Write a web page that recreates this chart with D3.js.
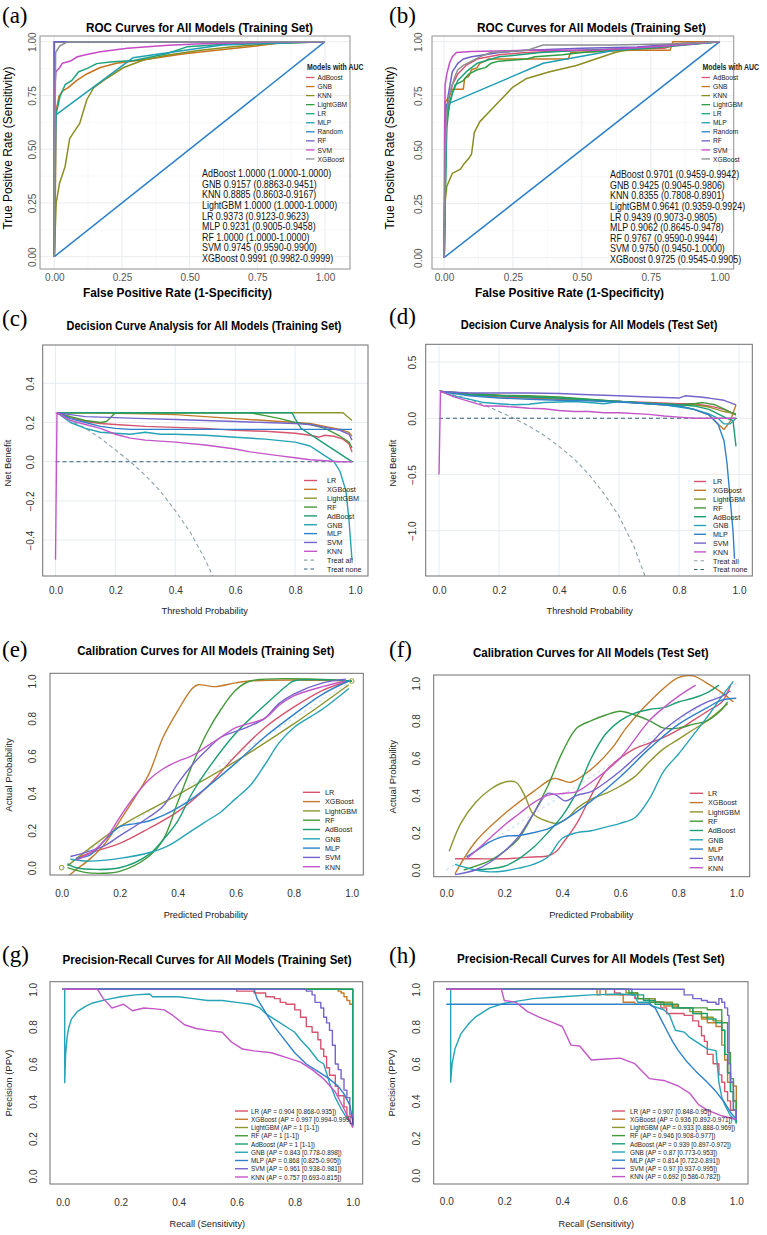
<!DOCTYPE html>
<html>
<head>
<meta charset="utf-8">
<script src="https://cdn.jsdelivr.net/npm/d3@7"></script>
<style>
  body { margin: 0; background: #fff; }
  svg { display: block; font-family: "Liberation Sans", Arial, sans-serif; }
</style>
</head>
<body>
<script>
// ---------------- data ----------------
const rocModels = ["AdBoost", "GNB", "KNN", "LightGBM", "LR", "MLP", "Random", "RF", "SVM", "XGBoost"];
const aucModels = ["AdBoost", "GNB", "KNN", "LightGBM", "LR", "MLP", "RF", "SVM", "XGBoost"];
const aucTrain = [1.0000, 0.9157, 0.8885, 1.0000, 0.9373, 0.9231, 1.0000, 0.9745, 0.9991];
const aucTrainLo = [1.0000, 0.8863, 0.8603, 1.0000, 0.9123, 0.9005, 1.0000, 0.9590, 0.9982];
const aucTrainHi = [1.0000, 0.9451, 0.9167, 1.0000, 0.9623, 0.9458, 1.0000, 0.9900, 0.9999];
const aucTest = [0.9701, 0.9425, 0.8355, 0.9641, 0.9439, 0.9062, 0.9767, 0.9750, 0.9725];
const aucTestLo = [0.9459, 0.9045, 0.7808, 0.9359, 0.9073, 0.8645, 0.9590, 0.9450, 0.9545];
const aucTestHi = [0.9942, 0.9806, 0.8901, 0.9924, 0.9805, 0.9478, 0.9944, 1.0000, 0.9905];

const baseModels = ["LR", "XGBoost", "LightGBM", "RF", "AdBoost", "GNB", "MLP", "SVM", "KNN"];
const apTrain = [0.904, 0.997, 1, 1, 1, 0.843, 0.868, 0.961, 0.757];
const apTrainLo = [0.868, 0.994, 1, 1, 1, 0.778, 0.825, 0.938, 0.693];
const apTrainHi = [0.935, 0.999, 1, 1, 1, 0.898, 0.905, 0.981, 0.815];
const apTest = [0.907, 0.936, 0.933, 0.946, 0.939, 0.87, 0.814, 0.97, 0.692];
const apTestLo = [0.848, 0.892, 0.888, 0.908, 0.897, 0.773, 0.722, 0.937, 0.586];
const apTestHi = [0.95, 0.971, 0.969, 0.977, 0.972, 0.953, 0.891, 0.995, 0.782];

const rocTicks = [0, 0.25, 0.5, 0.75, 1];
const probTicks = [0, 0.2, 0.4, 0.6, 0.8, 1];
const nbTicksTrain = [-0.4, -0.2, 0, 0.2, 0.4];
const nbTicksTest = [-1, -0.5, 0, 0.5];

// ROC, training set (a)
const rocTrainCurves = [
  ["AdBoost", [[0, 0], [0, 1], [1, 1]]],
  ["GNB", [[0, 0], [0.004, 0.3], [0.006, 0.55], [0.007, 0.68], [0.017, 0.745], [0.03, 0.77], [0.05, 0.785], [0.083, 0.82], [0.12, 0.85], [0.17, 0.88], [0.23, 0.9], [0.35, 0.92], [0.48, 0.944], [0.6, 0.96], [0.72, 0.976], [0.81, 0.99], [0.85, 1], [1, 1]]],
  ["KNN", [[0, 0], [0.007, 0.25], [0.019, 0.34], [0.04, 0.42], [0.057, 0.55], [0.094, 0.62], [0.12, 0.73], [0.145, 0.785], [0.194, 0.83], [0.256, 0.88], [0.33, 0.915], [0.415, 0.937], [0.54, 0.96], [0.66, 0.976], [0.785, 0.99], [1, 1]]],
  ["LightGBM", [[0, 0], [0, 1], [1, 1]]],
  ["LR", [[0, 0], [0.004, 0.6], [0.006, 0.66], [0.021, 0.745], [0.04, 0.8], [0.065, 0.82], [0.09, 0.86], [0.12, 0.875], [0.157, 0.898], [0.206, 0.906], [0.293, 0.913], [0.415, 0.944], [0.49, 0.976], [0.66, 0.99], [1, 1]]],
  ["MLP", [[0, 0], [0.006, 0.66], [0.29, 0.925], [0.62, 0.985], [1, 1]]],
  ["Random", [[0, 0], [1, 1]]],
  ["RF", [[0, 0], [0, 1], [1, 1]]],
  ["SVM", [[0, 0], [0.003, 0.8], [0.006, 0.86], [0.02, 0.88], [0.03, 0.9], [0.06, 0.91], [0.085, 0.93], [0.12, 0.94], [0.17, 0.953], [0.27, 0.97], [0.42, 0.984], [0.55, 0.99], [0.85, 1], [1, 1]]],
  ["XGBoost", [[0, 0], [0.002, 0.5], [0.005, 0.95], [0.02, 0.98], [0.05, 1], [1, 1]]]
];

// ROC, second set (b)
const rocTestCurves = [
  ["AdBoost", [[0, 0], [0.005, 0.55], [0.015, 0.72], [0.03, 0.8], [0.05, 0.85], [0.08, 0.89], [0.12, 0.92], [0.2, 0.94], [0.3, 0.95], [0.5, 0.96], [0.8, 0.97], [0.85, 0.99], [1, 1]]],
  ["GNB", [[0, 0], [0.003, 0.04], [0.005, 0.72], [0.015, 0.74], [0.03, 0.78], [0.07, 0.78], [0.075, 0.83], [0.09, 0.84], [0.1, 0.87], [0.12, 0.88], [0.13, 0.9], [0.15, 0.91], [0.16, 0.92], [0.45, 0.92], [0.46, 0.95], [0.68, 0.96], [0.82, 0.96], [0.83, 1], [1, 1]]],
  ["KNN", [[0, 0], [0.005, 0.27], [0.01, 0.33], [0.03, 0.39], [0.06, 0.41], [0.07, 0.43], [0.09, 0.46], [0.1, 0.48], [0.11, 0.58], [0.13, 0.63], [0.16, 0.67], [0.19, 0.71], [0.22, 0.75], [0.25, 0.79], [0.3, 0.83], [0.38, 0.86], [0.48, 0.89], [0.55, 0.92], [0.62, 0.95], [0.69, 0.97], [0.8, 0.98], [1, 1]]],
  ["LightGBM", [[0, 0], [0.01, 0.6], [0.02, 0.72], [0.04, 0.8], [0.07, 0.82], [0.09, 0.85], [0.12, 0.87], [0.15, 0.88], [0.17, 0.9], [0.2, 0.91], [0.3, 0.92], [0.33, 0.93], [0.43, 0.94], [0.5, 0.95], [0.62, 0.96], [0.75, 0.97], [1, 1]]],
  ["LR", [[0, 0], [0.01, 0.65], [0.03, 0.76], [0.05, 0.82], [0.08, 0.86], [0.12, 0.9], [0.2, 0.93], [0.35, 0.95], [0.5, 0.96], [0.7, 0.97], [1, 1]]],
  ["MLP", [[0, 0], [0.005, 0.45], [0.01, 0.71], [0.36, 0.9], [0.62, 0.96], [1, 1]]],
  ["Random", [[0, 0], [1, 1]]],
  ["RF", [[0, 0], [0.005, 0.6], [0.015, 0.75], [0.03, 0.86], [0.05, 0.9], [0.07, 0.92], [0.1, 0.93], [0.2, 0.95], [0.3, 0.96], [0.5, 0.97], [0.7, 0.975], [0.85, 0.99], [1, 1]]],
  ["SVM", [[0, 0], [0.002, 0.55], [0.004, 0.8], [0.01, 0.85], [0.02, 0.9], [0.03, 0.93], [0.045, 0.95], [0.1, 0.955], [0.3, 0.96], [0.55, 0.96], [0.8, 0.98], [1, 1]]],
  ["XGBoost", [[0, 0], [0.005, 0.5], [0.01, 0.68], [0.02, 0.76], [0.03, 0.8], [0.04, 0.84], [0.05, 0.87], [0.07, 0.89], [0.1, 0.91], [0.13, 0.93], [0.17, 0.95], [0.3, 0.96], [0.36, 0.985], [0.6, 0.985], [0.85, 0.99], [1, 1]]]
];

// Decision curves, training set (c)
const dcaTrainCurves = [
  ["LR", [[0.005, 0.25], [0.05, 0.225], [0.1, 0.205], [0.15, 0.195], [0.2, 0.19], [0.3, 0.18], [0.4, 0.175], [0.5, 0.17], [0.6, 0.16], [0.7, 0.155], [0.8, 0.145], [0.85, 0.135], [0.88, 0.125], [0.9, 0.135], [0.93, 0.13], [0.96, 0.115], [0.98, 0.09], [0.99, 0.05]]],
  ["XGBoost", [[0.005, 0.25], [0.1, 0.25], [0.3, 0.245], [0.4, 0.24], [0.5, 0.23], [0.6, 0.22], [0.7, 0.21], [0.8, 0.2], [0.85, 0.195], [0.9, 0.18], [0.95, 0.165], [0.98, 0.15], [0.99, 0.13]]],
  ["LightGBM", [[0.005, 0.25], [0.96, 0.25], [0.99, 0.21]]],
  ["RF", [[0.005, 0.25], [0.05, 0.23], [0.1, 0.21], [0.15, 0.2], [0.17, 0.205], [0.2, 0.25], [0.65, 0.25], [0.7, 0.235], [0.75, 0.22], [0.8, 0.2], [0.85, 0.19], [0.9, 0.17], [0.95, 0.13], [0.98, 0.1], [0.99, 0.07]]],
  ["AdBoost", [[0.005, 0.25], [0.79, 0.25], [0.8, 0.22], [0.82, 0.17], [0.85, 0.14], [0.88, 0.11], [0.9, 0.09], [0.93, 0.06], [0.96, 0.03], [0.99, 0.0]]],
  ["GNB", [[0.005, 0.25], [0.05, 0.2], [0.1, 0.17], [0.15, 0.15], [0.2, 0.145], [0.25, 0.14], [0.3, 0.15], [0.35, 0.14], [0.4, 0.14], [0.5, 0.135], [0.6, 0.125], [0.7, 0.115], [0.8, 0.1], [0.85, 0.08], [0.88, 0.05], [0.9, 0.03], [0.93, 0.0], [0.95, -0.05], [0.97, -0.15], [0.98, -0.3], [0.99, -0.5]]],
  ["MLP", [[0.005, 0.25], [0.05, 0.22], [0.1, 0.2], [0.15, 0.18], [0.2, 0.17], [0.25, 0.165], [0.99, 0.165]]],
  ["SVM", [[0.005, 0.25], [0.05, 0.24], [0.1, 0.23], [0.2, 0.225], [0.3, 0.22], [0.4, 0.215], [0.5, 0.21], [0.6, 0.205], [0.7, 0.2], [0.8, 0.195], [0.85, 0.19], [0.9, 0.175], [0.95, 0.16], [0.98, 0.14], [0.99, 0.11]]],
  ["KNN", [[0, -0.5], [0.005, 0.25], [0.05, 0.21], [0.1, 0.19], [0.15, 0.17], [0.2, 0.14], [0.25, 0.12], [0.3, 0.11], [0.35, 0.105], [0.4, 0.1], [0.5, 0.085], [0.6, 0.065], [0.65, 0.05], [0.7, 0.04], [0.75, 0.03], [0.8, 0.02], [0.85, 0.01], [0.9, 0.005], [0.95, 0.0], [0.99, 0.0]]]
];
const treatAllTrain = [[0, 0.25], [0.05, 0.21], [0.1, 0.17], [0.15, 0.12], [0.2, 0.06], [0.25, 0.0], [0.3, -0.07], [0.35, -0.15], [0.4, -0.25], [0.45, -0.36], [0.5, -0.5], [0.53, -0.6]];
const treatNone = [[0, 0], [1, 0]];

// Decision curves, test set (d)
const dcaTestCurves = [
  ["LR", [[0.005, 0.24], [0.1, 0.21], [0.2, 0.19], [0.3, 0.18], [0.4, 0.17], [0.5, 0.16], [0.6, 0.15], [0.7, 0.14], [0.8, 0.13], [0.85, 0.13], [0.9, 0.11], [0.95, 0.08], [0.99, 0.03]]],
  ["XGBoost", [[0.005, 0.24], [0.1, 0.22], [0.2, 0.205], [0.3, 0.19], [0.4, 0.18], [0.5, 0.165], [0.6, 0.15], [0.7, 0.13], [0.8, 0.11], [0.85, 0.08], [0.9, 0.03], [0.93, -0.05], [0.95, -0.1], [0.97, -0.03], [0.99, 0.12]]],
  ["LightGBM", [[0.005, 0.24], [0.1, 0.215], [0.2, 0.2], [0.3, 0.19], [0.4, 0.175], [0.5, 0.16], [0.6, 0.15], [0.7, 0.135], [0.8, 0.12], [0.85, 0.12], [0.9, 0.1], [0.95, 0.06], [0.99, 0.04]]],
  ["RF", [[0.005, 0.24], [0.1, 0.22], [0.2, 0.205], [0.3, 0.2], [0.4, 0.19], [0.5, 0.17], [0.6, 0.15], [0.7, 0.13], [0.8, 0.12], [0.85, 0.13], [0.88, 0.14], [0.92, 0.12], [0.96, 0.07], [0.99, 0.03]]],
  ["AdBoost", [[0.005, 0.24], [0.1, 0.21], [0.2, 0.2], [0.3, 0.19], [0.4, 0.18], [0.5, 0.165], [0.6, 0.15], [0.7, 0.135], [0.8, 0.12], [0.85, 0.11], [0.9, 0.08], [0.93, 0.04], [0.96, 0.0], [0.98, -0.02], [0.99, -0.25]]],
  ["GNB", [[0.005, 0.24], [0.05, 0.2], [0.1, 0.17], [0.15, 0.14], [0.2, 0.13], [0.25, 0.12], [0.3, 0.125], [0.35, 0.14], [0.4, 0.145], [0.45, 0.15], [0.5, 0.14], [0.55, 0.13], [0.6, 0.15], [0.65, 0.14], [0.7, 0.13], [0.75, 0.12], [0.8, 0.1], [0.85, 0.08], [0.9, 0.04], [0.93, 0.0], [0.95, -0.05], [0.97, -0.05], [0.99, 0.0]]],
  ["MLP", [[0.005, 0.24], [0.1, 0.2], [0.2, 0.18], [0.3, 0.17], [0.4, 0.16], [0.5, 0.155], [0.6, 0.145], [0.7, 0.13], [0.8, 0.11], [0.85, 0.08], [0.9, 0.03], [0.93, -0.05], [0.95, -0.2], [0.96, -0.4], [0.97, -0.7], [0.98, -1.0], [0.985, -1.25]]],
  ["SVM", [[0.005, 0.24], [0.1, 0.225], [0.2, 0.225], [0.3, 0.225], [0.4, 0.22], [0.5, 0.21], [0.6, 0.2], [0.7, 0.19], [0.8, 0.18], [0.82, 0.2], [0.87, 0.19], [0.9, 0.18], [0.95, 0.16], [0.99, 0.12]]],
  ["KNN", [[0, -0.5], [0.005, 0.24], [0.05, 0.19], [0.1, 0.15], [0.15, 0.11], [0.2, 0.11], [0.25, 0.1], [0.3, 0.09], [0.35, 0.085], [0.4, 0.07], [0.45, 0.06], [0.5, 0.06], [0.55, 0.05], [0.6, 0.05], [0.7, 0.035], [0.75, 0.02], [0.8, 0.01], [0.85, 0.0], [0.99, 0.0]]]
];
const treatAllTest = [[0, 0.25], [0.05, 0.21], [0.1, 0.17], [0.15, 0.12], [0.2, 0.06], [0.25, 0.0], [0.3, -0.07], [0.35, -0.15], [0.4, -0.25], [0.45, -0.36], [0.5, -0.5], [0.55, -0.67], [0.6, -0.87], [0.65, -1.14], [0.7, -1.5]];

// Calibration, training set (e)
const calTrainCurves = [
  ["LR", [[0.05, 0.05], [0.1, 0.08], [0.2, 0.13], [0.3, 0.21], [0.4, 0.3], [0.5, 0.43], [0.6, 0.6], [0.7, 0.75], [0.8, 0.86], [0.9, 0.95], [0.99, 1.0]]],
  ["XGBoost", [[0.02, -0.05], [0.05, -0.01], [0.1, 0.05], [0.15, 0.13], [0.2, 0.25], [0.25, 0.37], [0.3, 0.5], [0.35, 0.7], [0.4, 0.84], [0.45, 0.96], [0.47, 0.98], [0.5, 0.975], [0.53, 0.97], [0.6, 0.99], [0.65, 1.0], [0.8, 1.005], [1, 1]]],
  ["LightGBM", [[0.02, 0.01], [0.2, 0.22], [0.4, 0.39], [0.6, 0.57], [0.8, 0.77], [0.99, 0.98]]],
  ["RF", [[0.02, 0.0], [0.08, -0.025], [0.14, -0.03], [0.2, -0.02], [0.3, 0.06], [0.35, 0.15], [0.4, 0.35], [0.45, 0.55], [0.5, 0.72], [0.55, 0.85], [0.6, 0.95], [0.65, 1.0], [1, 1]]],
  ["AdBoost", [[0.02, 0.02], [0.05, 0.0], [0.2, 0.0], [0.3, 0.07], [0.35, 0.15], [0.4, 0.25], [0.45, 0.4], [0.5, 0.52], [0.6, 0.72], [0.7, 0.87], [0.78, 0.98], [0.8, 1.0], [1, 1]]],
  ["GNB", [[0.03, 0.045], [0.1, 0.035], [0.2, 0.05], [0.3, 0.08], [0.37, 0.12], [0.45, 0.2], [0.5, 0.25], [0.55, 0.3], [0.6, 0.37], [0.65, 0.44], [0.7, 0.55], [0.75, 0.67], [0.8, 0.75], [0.9, 0.85], [0.99, 0.96]]],
  ["MLP", [[0.05, 0.05], [0.1, 0.07], [0.15, 0.15], [0.2, 0.22], [0.25, 0.235], [0.3, 0.25], [0.35, 0.28], [0.4, 0.32], [0.45, 0.37], [0.5, 0.43], [0.6, 0.56], [0.7, 0.7], [0.8, 0.82], [0.9, 0.93], [0.99, 1.0]]],
  ["SVM", [[0.03, 0.06], [0.1, 0.09], [0.15, 0.12], [0.2, 0.17], [0.3, 0.27], [0.35, 0.33], [0.4, 0.45], [0.45, 0.55], [0.5, 0.63], [0.55, 0.7], [0.6, 0.73], [0.65, 0.76], [0.7, 0.8], [0.75, 0.88], [0.8, 0.93], [0.9, 0.99], [0.98, 1.01]]],
  ["KNN", [[0.05, 0.04], [0.1, 0.08], [0.15, 0.15], [0.2, 0.27], [0.25, 0.38], [0.3, 0.47], [0.35, 0.53], [0.4, 0.57], [0.45, 0.6], [0.5, 0.65], [0.55, 0.7], [0.6, 0.75], [0.7, 0.8], [0.75, 0.87], [0.8, 0.92], [0.9, 0.97], [0.98, 1.0]]]
];
const calTrainEnds = [[0, 0], [1, 1]];

// Calibration, test set (f)
const calTestCurves = [
  ["LR", [[0.03, 0.06], [0.1, 0.06], [0.2, 0.06], [0.25, 0.065], [0.3, 0.07], [0.35, 0.075], [0.38, 0.1], [0.4, 0.14], [0.45, 0.25], [0.5, 0.4], [0.55, 0.53], [0.6, 0.6], [0.65, 0.65], [0.7, 0.68], [0.75, 0.71], [0.8, 0.75], [0.85, 0.8], [0.9, 0.85], [0.95, 0.9], [0.98, 0.99]]],
  ["XGBoost", [[0.03, -0.02], [0.1, 0.15], [0.2, 0.3], [0.3, 0.42], [0.37, 0.49], [0.4, 0.48], [0.43, 0.47], [0.5, 0.54], [0.57, 0.65], [0.62, 0.76], [0.7, 0.9], [0.8, 1.03], [0.85, 1.04], [0.9, 1.0], [0.95, 0.95], [0.99, 0.9]]],
  ["LightGBM", [[0.01, 0.1], [0.05, 0.25], [0.1, 0.36], [0.15, 0.43], [0.2, 0.47], [0.24, 0.47], [0.27, 0.4], [0.3, 0.3], [0.35, 0.26], [0.38, 0.25], [0.42, 0.28], [0.45, 0.33], [0.5, 0.38], [0.55, 0.41], [0.6, 0.45], [0.65, 0.5], [0.7, 0.58], [0.75, 0.65], [0.8, 0.7], [0.85, 0.75], [0.9, 0.8], [0.97, 0.89]]],
  ["RF", [[0.06, 0.0], [0.15, 0.05], [0.2, 0.1], [0.25, 0.17], [0.3, 0.3], [0.35, 0.45], [0.4, 0.63], [0.45, 0.76], [0.5, 0.8], [0.55, 0.83], [0.6, 0.85], [0.65, 0.83], [0.7, 0.8], [0.75, 0.76], [0.8, 0.76], [0.85, 0.78], [0.9, 0.8], [0.95, 0.86], [0.97, 0.9]]],
  ["AdBoost", [[0.1, 0.0], [0.2, 0.02], [0.25, 0.06], [0.3, 0.12], [0.35, 0.2], [0.4, 0.29], [0.45, 0.42], [0.5, 0.6], [0.55, 0.73], [0.6, 0.8], [0.65, 0.84], [0.7, 0.86], [0.75, 0.87], [0.8, 0.9], [0.85, 0.92], [0.9, 0.95], [0.94, 0.99]]],
  ["GNB", [[0.03, 0.03], [0.1, 0.0], [0.15, -0.01], [0.2, -0.005], [0.25, 0.01], [0.3, 0.03], [0.35, 0.07], [0.4, 0.17], [0.45, 0.2], [0.5, 0.21], [0.55, 0.23], [0.6, 0.25], [0.65, 0.28], [0.7, 0.38], [0.75, 0.53], [0.8, 0.62], [0.85, 0.72], [0.9, 0.82], [0.95, 0.93], [0.99, 1.01]]],
  ["MLP", [[0.07, 0.07], [0.1, 0.1], [0.15, 0.15], [0.2, 0.18], [0.25, 0.185], [0.3, 0.2], [0.35, 0.22], [0.4, 0.26], [0.5, 0.37], [0.6, 0.5], [0.7, 0.65], [0.8, 0.78], [0.9, 0.87], [0.95, 0.91], [1.0, 0.92]]],
  ["SVM", [[0.03, -0.025], [0.1, 0.0], [0.15, 0.04], [0.2, 0.1], [0.25, 0.18], [0.3, 0.3], [0.35, 0.41], [0.38, 0.4], [0.41, 0.37], [0.45, 0.4], [0.5, 0.42], [0.55, 0.47], [0.6, 0.53], [0.65, 0.6], [0.7, 0.67], [0.75, 0.75], [0.8, 0.81], [0.85, 0.86], [0.9, 0.9], [0.95, 0.93], [0.98, 0.96]]],
  ["KNN", [[0.07, 0.06], [0.1, 0.1], [0.15, 0.17], [0.2, 0.24], [0.25, 0.3], [0.3, 0.36], [0.35, 0.4], [0.4, 0.41], [0.45, 0.42], [0.5, 0.47], [0.55, 0.53], [0.6, 0.6], [0.65, 0.7], [0.7, 0.8], [0.75, 0.87], [0.8, 0.93], [0.86, 0.99]]]
];
const idealLine = [[0, 0], [1, 1]];

// Precision-recall, training set (g)
const prTrainCurves = [
  ["LR", [[0, 1], [0.53, 1], [0.6, 0.99], [0.66, 0.98], [0.7, 0.96], [0.73, 0.95], [0.75, 0.93], [0.77, 0.92], [0.8, 0.89], [0.82, 0.85], [0.84, 0.8], [0.86, 0.77], [0.88, 0.73], [0.89, 0.68], [0.9, 0.64], [0.91, 0.58], [0.92, 0.54], [0.94, 0.48], [0.95, 0.43], [0.97, 0.37], [0.98, 0.32], [1, 0.26]]],
  ["XGBoost", [[0, 1], [0.94, 1], [0.95, 0.99], [0.96, 0.98], [0.97, 0.96], [0.98, 0.94], [0.99, 0.92], [1, 0.9]]],
  ["LightGBM", [[0, 1], [1, 1], [1, 0.27]]],
  ["RF", [[0, 1], [1, 1], [1, 0.27]]],
  ["AdBoost", [[0, 1], [1, 1], [1, 0.27]]],
  ["GNB", [[0, 1], [0.007, 1], [0.007, 0.5], [0.01, 0.65], [0.015, 0.74], [0.02, 0.79], [0.03, 0.84], [0.05, 0.88], [0.08, 0.91], [0.1, 0.925], [0.15, 0.945], [0.2, 0.96], [0.25, 0.97], [0.3, 0.975], [0.31, 0.96], [0.4, 0.96], [0.45, 0.95], [0.5, 0.94], [0.55, 0.94], [0.6, 0.93], [0.65, 0.92], [0.68, 0.9], [0.7, 0.87], [0.72, 0.85], [0.75, 0.82], [0.78, 0.79], [0.8, 0.77], [0.82, 0.73], [0.85, 0.68], [0.88, 0.62], [0.9, 0.6], [0.92, 0.5], [0.94, 0.42], [0.96, 0.36], [0.98, 0.31], [1, 0.27]]],
  ["MLP", [[0, 1], [0.66, 1], [0.67, 0.95], [0.69, 0.9], [0.71, 0.85], [0.73, 0.8], [0.76, 0.74], [0.8, 0.66], [0.84, 0.6], [0.88, 0.56], [0.92, 0.52], [0.95, 0.48], [0.97, 0.44], [0.99, 0.38], [1, 0.3]]],
  ["SVM", [[0, 1], [0.82, 1], [0.84, 0.99], [0.86, 0.97], [0.87, 0.93], [0.89, 0.9], [0.9, 0.85], [0.91, 0.82], [0.92, 0.78], [0.93, 0.7], [0.94, 0.6], [0.95, 0.57], [0.96, 0.52], [0.97, 0.46], [0.98, 0.42], [0.99, 0.33], [1, 0.27]]],
  ["KNN", [[0, 1], [0.12, 1], [0.14, 0.95], [0.17, 0.9], [0.19, 0.91], [0.21, 0.92], [0.24, 0.885], [0.28, 0.9], [0.32, 0.895], [0.35, 0.89], [0.38, 0.86], [0.42, 0.81], [0.46, 0.79], [0.5, 0.78], [0.55, 0.77], [0.58, 0.72], [0.62, 0.68], [0.66, 0.67], [0.72, 0.66], [0.78, 0.63], [0.82, 0.61], [0.86, 0.57], [0.9, 0.52], [0.94, 0.45], [0.97, 0.36], [1, 0.26]]]
];

// Precision-recall, test set (h)
const prTestCurves = [
  ["LR", [[0, 1], [0.57, 1], [0.58, 0.98], [0.6, 0.97], [0.65, 0.95], [0.72, 0.93], [0.74, 0.9], [0.76, 0.87], [0.82, 0.86], [0.85, 0.83], [0.87, 0.8], [0.88, 0.75], [0.89, 0.72], [0.9, 0.65], [0.92, 0.6], [0.94, 0.54], [0.95, 0.5], [0.96, 0.45], [0.97, 0.4], [0.98, 0.35], [1, 0.28]]],
  ["XGBoost", [[0, 1], [0.51, 1], [0.52, 0.97], [0.53, 1], [0.55, 0.97], [0.6, 0.97], [0.61, 0.93], [0.65, 0.92], [0.7, 0.93], [0.75, 0.91], [0.8, 0.9], [0.85, 0.87], [0.88, 0.84], [0.9, 0.82], [0.93, 0.8], [0.95, 0.7], [0.96, 0.62], [0.97, 0.5], [0.99, 0.48], [1, 0.3]]],
  ["LightGBM", [[0, 1], [0.58, 1], [0.62, 0.98], [0.66, 0.95], [0.72, 0.93], [0.78, 0.9], [0.84, 0.88], [0.88, 0.85], [0.92, 0.83], [0.95, 0.78], [0.96, 0.65], [0.97, 0.55], [0.98, 0.45], [0.99, 0.4], [1, 0.3]]],
  ["RF", [[0, 1], [0.62, 1], [0.63, 0.98], [0.66, 0.95], [0.7, 0.93], [0.75, 0.92], [0.8, 0.9], [0.85, 0.9], [0.9, 0.89], [0.93, 0.89], [0.95, 0.82], [0.97, 0.66], [0.98, 0.52], [0.99, 0.4], [1, 0.28]]],
  ["AdBoost", [[0, 1], [0.62, 1], [0.64, 0.97], [0.68, 0.94], [0.72, 0.92], [0.78, 0.9], [0.85, 0.87], [0.9, 0.84], [0.93, 0.82], [0.95, 0.78], [0.96, 0.65], [0.97, 0.55], [0.98, 0.45], [0.99, 0.35], [1, 0.28]]],
  ["GNB", [[0, 1], [0.015, 1], [0.015, 0.5], [0.02, 0.6], [0.03, 0.68], [0.05, 0.76], [0.08, 0.82], [0.1, 0.85], [0.15, 0.9], [0.2, 0.925], [0.3, 0.95], [0.4, 0.96], [0.5, 0.97], [0.6, 0.975], [0.65, 0.97], [0.66, 0.93], [0.7, 0.93], [0.71, 0.91], [0.75, 0.89], [0.77, 0.86], [0.79, 0.78], [0.82, 0.77], [0.84, 0.74], [0.86, 0.72], [0.88, 0.7], [0.9, 0.68], [0.93, 0.67], [0.94, 0.5], [0.95, 0.42], [0.96, 0.38], [0.98, 0.32], [1, 0.29]]],
  ["MLP", [[0, 0.92], [0.7, 0.92], [0.72, 0.9], [0.74, 0.84], [0.76, 0.78], [0.78, 0.72], [0.8, 0.67], [0.83, 0.61], [0.86, 0.56], [0.9, 0.5], [0.93, 0.45], [0.96, 0.39], [0.98, 0.34], [1, 0.3]]],
  ["SVM", [[0, 1], [0.81, 1], [0.82, 0.97], [0.85, 0.95], [0.88, 0.94], [0.9, 0.93], [0.93, 0.92], [0.94, 0.95], [0.95, 0.93], [0.96, 0.9], [0.97, 0.86], [0.975, 0.6], [0.98, 0.5], [0.99, 0.35], [1, 0.3]]],
  ["KNN", [[0, 1], [0.19, 1], [0.2, 0.94], [0.24, 0.93], [0.28, 0.88], [0.32, 0.85], [0.37, 0.82], [0.4, 0.8], [0.43, 0.7], [0.46, 0.695], [0.5, 0.62], [0.55, 0.625], [0.6, 0.63], [0.65, 0.6], [0.7, 0.52], [0.75, 0.51], [0.8, 0.48], [0.84, 0.44], [0.87, 0.38], [0.9, 0.35], [0.95, 0.32], [1, 0.3]]]
];

// ---------------- styling ----------------
const rocColor = d3.scaleOrdinal()
  .domain(rocModels)
  .range(["#da5570", "#c7741f", "#8a8d20", "#2f9d45", "#1aa37c", "#1f9fb3", "#2b7fc9", "#6c5fc9", "#c64cc6", "#8a8f93"]);
const baseColor = d3.scaleOrdinal()
  .domain(baseModels)
  .range(["#d6546e", "#c27b2c", "#8d962f", "#44993b", "#1b9e74", "#25a4b6", "#2f81cb", "#7465cc", "#c457c8"]);

const W = 767, H = 1235;
const svg = d3.select("body").append("svg").attr("width", W).attr("height", H);
svg.append("rect").attr("width", W).attr("height", H).attr("fill", "#fff");

function txt(g, x, y, s, o = {}) {
  let tr = `translate(${x},${y})`;
  if (o.rot) tr += ` rotate(${o.rot})`;
  if (o.sx) tr += ` scale(${o.sx},1)`;
  const t = g.append("text")
    .attr("transform", tr)
    .attr("text-anchor", o.anchor || "start")
    .attr("font-size", o.size || 10)
    .attr("fill", o.fill || "#000")
    .text(s);
  if (o.bold) t.attr("font-weight", "bold");
  if (o.family) t.attr("font-family", o.family);
  if (o.len) t.attr("textLength", o.len).attr("lengthAdjust", "spacingAndGlyphs");
  return t;
}

let clipId = 0;
function makeClip(box) {
  const id = "clip" + (clipId++);
  svg.append("clipPath").attr("id", id).append("rect")
    .attr("x", box[0]).attr("y", box[1]).attr("width", box[2] - box[0]).attr("height", box[3] - box[1]);
  return `url(#${id})`;
}

// ---------------- ROC panels (ggplot look) ----------------
function rocPanel(p) {
  const g = svg.append("g");
  const [l, t, r, b] = p.box;
  const x = d3.scaleLinear().domain([0, 1]).range(p.xr);
  const y = d3.scaleLinear().domain([0, 1]).range(p.yr);
  const minor = [0.125, 0.375, 0.625, 0.875];

  // grid
  g.append("g").selectAll("line").data(minor).join("line")
    .attr("x1", d => x(d)).attr("x2", d => x(d)).attr("y1", t).attr("y2", b)
    .attr("stroke", "#f3f3f3").attr("stroke-width", 0.6);
  g.append("g").selectAll("line").data(minor).join("line")
    .attr("y1", d => y(d)).attr("y2", d => y(d)).attr("x1", l).attr("x2", r)
    .attr("stroke", "#f3f3f3").attr("stroke-width", 0.6);
  g.append("g").selectAll("line").data(rocTicks).join("line")
    .attr("x1", d => x(d)).attr("x2", d => x(d)).attr("y1", t).attr("y2", b)
    .attr("stroke", "#e9ecef").attr("stroke-width", 1);
  g.append("g").selectAll("line").data(rocTicks).join("line")
    .attr("y1", d => y(d)).attr("y2", d => y(d)).attr("x1", l).attr("x2", r)
    .attr("stroke", "#e9ecef").attr("stroke-width", 1);

  // curves
  const line = d3.line().x(d => x(d[0])).y(d => y(d[1]));
  g.append("g").selectAll("path").data(p.curves).join("path")
    .attr("d", d => line(d[1]))
    .attr("fill", "none")
    .attr("stroke", d => rocColor(d[0]))
    .attr("stroke-width", 1.5)
    .attr("stroke-linejoin", "round");

  g.append("rect").attr("x", l).attr("y", t).attr("width", r - l).attr("height", b - t)
    .attr("fill", "none").attr("stroke", "#9a9a9a").attr("stroke-width", 1.1);

  // axes
  const xa = g.append("g").attr("transform", `translate(0,${b + 5})`)
    .call(d3.axisBottom(x).tickValues(rocTicks).tickFormat(d3.format(".2f")).tickSize(0).tickPadding(0));
  xa.select(".domain").remove();
  xa.selectAll("text").attr("font-size", 10).attr("fill", "#555").attr("font-family", "Liberation Sans");
  const ya = g.append("g").attr("transform", `translate(${p.yTickX},0)`)
    .call(d3.axisLeft(y).tickValues(rocTicks).tickFormat(d3.format(".2f")).tickSize(0).tickPadding(0));
  ya.select(".domain").remove();
  ya.selectAll("text").attr("x", 0).attr("y", 0).attr("dy", "0.35em").attr("text-anchor", "middle")
    .attr("transform", "rotate(-90)").attr("font-size", 10).attr("fill", "#555").attr("font-family", "Liberation Sans");

  // titles
  txt(g, p.titleX, 32, p.title, { anchor: "middle", size: 13.5, bold: true, len: p.titleLen });
  txt(g, p.xTitleX, 297, "False Positive Rate (1-Specificity)", { anchor: "middle", size: 12, bold: true, len: 189 });
  txt(g, p.yTitleX, 148, "True Positive Rate (Sensitivity)", { anchor: "middle", size: 13, rot: -90, len: 163 });
  txt(g, p.tagX, 23, p.tag, { size: 23, family: "Liberation Serif" });

  // legend
  const lg = g.append("g");
  txt(lg, p.legX, 70, "Models with AUC", { size: 8.5, bold: true, fill: "#222", sx: 0.82 });
  const items = lg.selectAll("g.item").data(rocModels).join("g")
    .attr("transform", (d, i) => `translate(0,${77.5 + i * 9.05})`);
  items.append("line").attr("x1", p.legX - 1).attr("x2", p.legX + 7.5).attr("y1", 0).attr("y2", 0)
    .attr("stroke", d => rocColor(d)).attr("stroke-width", 1.3);
  items.each(function (d) { txt(d3.select(this), p.legX + 10.5, 2.6, d, { size: 7.6, fill: "#222", sx: 0.88 }); });

  // AUC annotation
  const ag = g.append("g");
  aucModels.forEach((m, i) => {
    const s = `${m} ${p.auc[i].toFixed(4)} (${p.lo[i].toFixed(4)}-${p.hi[i].toFixed(4)})`;
    txt(ag, p.aucX, p.aucY + i * 10.58, s, { size: 11, fill: "#111", sx: 0.81 });
  });
}

rocPanel({
  box: [40, 36, 350, 269], xr: [54.3, 325], yr: [256.7, 41.7], curves: rocTrainCurves,
  yTickX: 32, title: "ROC Curves for All Models (Training Set)", titleX: 199.5, titleLen: 227,
  xTitleX: 177.5, yTitleX: 12, tag: "(a)", tagX: 2, legX: 307,
  auc: aucTrain, lo: aucTrainLo, hi: aucTrainHi, aucX: 202, aucY: 177.3
});
rocPanel({
  box: [432, 36, 733.7, 269], xr: [444, 719.7], yr: [257.7, 41.7], curves: rocTestCurves,
  yTickX: 418, title: "ROC Curves for All Models (Training Set)", titleX: 591.5, titleLen: 229,
  xTitleX: 569.5, yTitleX: 394, tag: "(b)", tagX: 389, legX: 702.5,
  auc: aucTest, lo: aucTestLo, hi: aucTestHi, aucX: 610, aucY: 178.3
});

// ---------------- base-R style panels ----------------
function basePanel(p) {
  const g = svg.append("g");
  const [l, t, r, b] = p.box;
  const x = d3.scaleLinear().domain([0, 1]).range(p.xr);
  const y = d3.scaleLinear().domain(p.yd).range(p.yr);
  const clip = makeClip(p.box);

  if (p.grid) {
    g.append("g").selectAll("line").data(probTicks).join("line")
      .attr("x1", d => x(d)).attr("x2", d => x(d)).attr("y1", t).attr("y2", b)
      .attr("stroke", "#e4ebf1").attr("stroke-width", 0.9);
    g.append("g").selectAll("line").data(p.yticks).join("line")
      .attr("y1", d => y(d)).attr("y2", d => y(d)).attr("x1", l).attr("x2", r)
      .attr("stroke", "#e4ebf1").attr("stroke-width", 0.9);
  }

  const cg = g.append("g").attr("clip-path", clip);
  if (p.diag) {
    cg.append("path").attr("d", d3.line().x(d => x(d[0])).y(d => y(d[1]))(idealLine))
      .attr("fill", "none").attr("stroke", "#cfe2ea").attr("stroke-width", 1.2).attr("stroke-dasharray", "3,3");
  }
  const lineFor = name => d3.line().x(d => x(d[0])).y(d => y(d[1]))
    .curve(p.smooth ? d3.curveCatmullRom.alpha(0.5) : (p.stepped && p.stepped.includes(name) ? d3.curveStepAfter : d3.curveLinear));
  if (p.refs) {
    p.refs.forEach(rf => {
      cg.append("path").attr("d", d3.line().x(d => x(d[0])).y(d => y(d[1]))(rf.pts))
        .attr("fill", "none").attr("stroke", rf.color).attr("stroke-width", 1.1).attr("stroke-dasharray", "4,3");
    });
  }
  cg.append("g").selectAll("path").data(p.curves).join("path")
    .attr("d", d => lineFor(d[0])(d[1]))
    .attr("fill", "none")
    .attr("stroke", d => baseColor(d[0]))
    .attr("stroke-width", 1.4)
    .attr("stroke-linejoin", "round");
  if (p.ends) {
    cg.append("g").selectAll("circle").data(p.ends).join("circle")
      .attr("cx", d => x(d[0])).attr("cy", d => y(d[1])).attr("r", 2.3)
      .attr("fill", "none").attr("stroke", baseColor("LightGBM")).attr("stroke-width", 1);
  }

  g.append("rect").attr("x", l).attr("y", t).attr("width", r - l).attr("height", b - t)
    .attr("fill", "none").attr("stroke", "#6f6f6f").attr("stroke-width", 1);

  // axes
  const xa = g.append("g").attr("transform", `translate(0,${p.xTickY - 3.7})`)
    .call(d3.axisBottom(x).tickValues(probTicks).tickFormat(d3.format(".1f")).tickSize(0).tickPadding(0));
  xa.select(".domain").remove();
  xa.selectAll("text").attr("font-size", 10).attr("fill", "#333").attr("font-family", "Liberation Sans");
  const ya = g.append("g").attr("transform", `translate(${p.yTickX},0)`)
    .call(d3.axisLeft(y).tickValues(p.yticks).tickFormat(d3.format(".1f")).tickSize(0).tickPadding(0));
  ya.select(".domain").remove();
  ya.selectAll("text").attr("x", 0).attr("y", 0).attr("dy", "0.35em").attr("text-anchor", "middle")
    .attr("transform", "rotate(-90)").attr("font-size", 10).attr("fill", "#333").attr("font-family", "Liberation Sans");

  txt(g, p.titleX, p.titleY, p.title, { anchor: "middle", size: 12.5, bold: true, len: p.titleLen });
  txt(g, p.xTitleX, p.xTitleY, p.xTitle, { anchor: "middle", size: 9.2, fill: "#222" });
  txt(g, p.yTitleX, p.yTitleY, p.yTitle, { anchor: "middle", size: 9.5, fill: "#222", rot: -90 });
  txt(g, p.tagX, p.tagY, p.tag, { size: 23, family: "Liberation Serif" });

  // legend
  const lg = g.append("g");
  p.legend.forEach((it, i) => {
    const yy = p.legY + i * p.legDy;
    lg.append("line").attr("x1", p.legKey[0]).attr("x2", p.legKey[1]).attr("y1", yy).attr("y2", yy)
      .attr("stroke", it.color).attr("stroke-width", it.dash ? 1.1 : 1.4)
      .attr("stroke-dasharray", it.dash ? "3.5,3" : null);
    txt(lg, p.legText, yy + p.legSize * 0.36, it.label, { size: p.legSize, fill: "#222", sx: p.legSx });
  });
}

const dcaLegend = baseModels.map(m => ({ label: m, color: baseColor(m) }))
  .concat([{ label: "Treat all", color: "#8aa1a8", dash: true }, { label: "Treat none", color: "#36617a", dash: true }]);
const calLegend = baseModels.map(m => ({ label: m, color: baseColor(m) }));
const prLegend = (v, lo, hi) => baseModels.map((m, i) => ({ label: `${m} (AP = ${v[i]} [${lo[i]}-${hi[i]}])`, color: baseColor(m) }));

basePanel({
  box: [42.7, 345, 368, 576], xr: [55.5, 355], yd: [0, 0.4], yr: [461.7, 383.3], yticks: nbTicksTrain, grid: true,
  curves: dcaTrainCurves,
  refs: [{ pts: treatAllTrain, color: "#8aa1a8" }, { pts: treatNone, color: "#36617a" }],
  xTickY: 591, yTickX: 30,
  title: "Decision Curve Analysis for All Models (Training Set)", titleX: 204, titleY: 329.5, titleLen: 275,
  xTitle: "Threshold Probability", xTitleX: 204.7, xTitleY: 614,
  yTitle: "Net Benefit", yTitleX: 11, yTitleY: 463,
  tag: "(c)", tagX: 2, tagY: 326,
  legend: dcaLegend, legY: 480.5, legDy: 8.85, legKey: [304, 317], legText: 327, legSize: 8, legSx: 0.9
});
basePanel({
  box: [425.7, 344.3, 752.3, 576], xr: [439, 739], yd: [0, -1], yr: [418.3, 530.7], yticks: nbTicksTest, grid: true,
  curves: dcaTestCurves,
  refs: [{ pts: treatAllTest, color: "#8aa1a8" }, { pts: treatNone, color: "#36617a" }],
  xTickY: 591, yTickX: 412.3,
  title: "Decision Curve Analysis for All Models (Test Set)", titleX: 589, titleY: 329, titleLen: 256.6,
  xTitle: "Threshold Probability", xTitleX: 589.7, xTitleY: 614,
  yTitle: "Net Benefit", yTitleX: 395.5, yTitleY: 463,
  tag: "(d)", tagX: 389, tagY: 324,
  legend: dcaLegend, legY: 481.5, legDy: 8.8, legKey: [694, 706], legText: 713, legSize: 8, legSx: 0.9
});
basePanel({
  box: [50, 673.3, 363.3, 875], xr: [61.7, 351.7], yd: [0, 1], yr: [867.7, 681], yticks: probTicks, grid: false,
  curves: calTrainCurves, smooth: true, ends: calTrainEnds, diag: true,
  xTickY: 893.3, yTickX: 32,
  title: "Calibration Curves for All Models (Training Set)", titleX: 205.8, titleY: 655, titleLen: 257,
  xTitle: "Predicted Probability", xTitleX: 205.8, xTitleY: 918,
  yTitle: "Actual Probability", yTitleX: 12, yTitleY: 775,
  tag: "(e)", tagX: 2, tagY: 657,
  legend: calLegend, legY: 792.3, legDy: 9.3, legKey: [303, 320], legText: 325, legSize: 8, legSx: 0.9
});
basePanel({
  box: [433.7, 675, 749.7, 876.7], xr: [446.3, 736.3], yd: [0, 1], yr: [870, 683.3], yticks: probTicks, grid: false,
  curves: calTestCurves, smooth: true, diag: true,
  xTickY: 894, yTickX: 416.3,
  title: "Calibration Curves for All Models (Test Set)", titleX: 590.8, titleY: 656.7, titleLen: 235.7,
  xTitle: "Predicted Probability", xTitleX: 591.3, xTitleY: 918,
  yTitle: "Actual Probability", yTitleX: 395.7, yTitleY: 776.7,
  tag: "(f)", tagX: 389, tagY: 657,
  legend: calLegend, legY: 793.3, legDy: 9.3, legKey: [689.7, 703], legText: 708, legSize: 8, legSx: 0.9
});
basePanel({
  box: [50, 981.7, 362.7, 1184], xr: [62.7, 352.7], yd: [0, 1], yr: [1176, 989.3], yticks: probTicks, grid: false,
  curves: prTrainCurves, stepped: ["LR", "XGBoost", "LightGBM", "RF", "AdBoost", "SVM"],
  xTickY: 1202.7, yTickX: 33.3,
  title: "Precision-Recall Curves for All Models (Training Set)", titleX: 207, titleY: 964, titleLen: 289,
  xTitle: "Recall (Sensitivity)", xTitleX: 207.3, xTitleY: 1226.5,
  yTitle: "Precision (PPV)", yTitleX: 12, yTitleY: 1083,
  tag: "(g)", tagX: 2, tagY: 962,
  legend: prLegend(apTrain, apTrainLo, apTrainHi), legY: 1111, legDy: 8.25, legKey: [235, 248], legText: 251, legSize: 7.5, legSx: 0.85
});
basePanel({
  box: [433.7, 981.7, 748, 1184], xr: [446.3, 736.3], yd: [0, 1], yr: [1175.3, 989.3], yticks: probTicks, grid: false,
  curves: prTestCurves, stepped: ["LR", "XGBoost", "LightGBM", "RF", "AdBoost", "SVM"],
  xTickY: 1201.7, yTickX: 416.3,
  title: "Precision-Recall Curves for All Models (Test Set)", titleX: 590.8, titleY: 963.3, titleLen: 267.7,
  xTitle: "Recall (Sensitivity)", xTitleX: 596.3, xTitleY: 1226.5,
  yTitle: "Precision (PPV)", yTitleX: 395, yTitleY: 1083,
  tag: "(h)", tagX: 389, tagY: 963,
  legend: prLegend(apTest, apTestLo, apTestHi), legY: 1111, legDy: 8.2, legKey: [612, 625], legText: 630, legSize: 7.5, legSx: 0.85
});
</script>
</body>
</html>
